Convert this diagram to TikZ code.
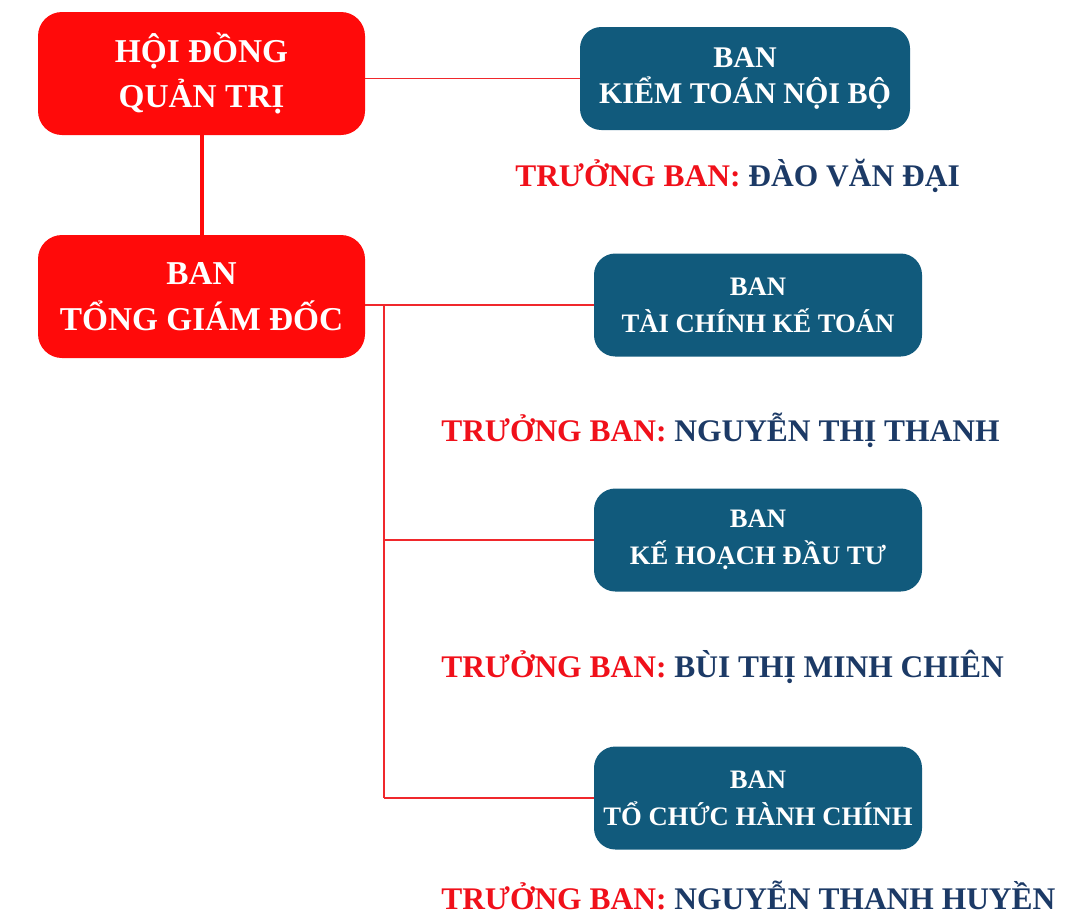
\documentclass[tikz,border=0pt]{standalone}
\usepackage{fontspec}
\setmainfont{Liberation Serif}
\definecolor{boxred}{HTML}{FF0A0A}
\definecolor{boxteal}{HTML}{115A7C}
\definecolor{namered}{HTML}{F0101A}
\definecolor{nameblue}{HTML}{1C3A66}
\definecolor{linered}{HTML}{F0282C}
\tikzset{
  redbox/.style={fill=boxred, rounded corners=18pt, text=white, align=center,
    minimum width=245.25pt, minimum height=92.25pt, inner sep=0pt,
    font=\bfseries\fontsize{25}{34}\selectfont},
  tealbox/.style={fill=boxteal, rounded corners=16pt, text=white, align=center,
    minimum width=246pt, minimum height=77.25pt, inner sep=0pt,
    font=\bfseries\fontsize{20}{27.5}\selectfont},
  headname/.style={anchor=west, inner sep=0pt, font=\bfseries\fontsize{23.6}{28}\selectfont},
  thinline/.style={draw=linered, line width=1.3pt},
  thickline/.style={draw=boxred, line width=3pt}
}
\begin{document}
\begin{tikzpicture}[x=0.75pt, y=-0.75pt]
\useasboundingbox (0,0) rectangle (1091,915);
% main boxes
\node[redbox] (hdqt) at (201.5,73.5) {HỘI ĐỒNG\\QUẢN TRỊ};
\node[redbox] (tgd) at (201.5,296.5) {BAN\\TỔNG GIÁM ĐỐC};
\node[tealbox, minimum width=247.5pt, font=\bfseries\fontsize{22.5}{27.5}\selectfont] (ktnb) at (745,78.5) {BAN\\KIỂM TOÁN NỘI BỘ};
\node[tealbox] (tckt) at (758,305) {BAN\\TÀI CHÍNH KẾ TOÁN};
\node[tealbox] (khdt) at (758,540) {BAN\\KẾ HOẠCH ĐẦU TƯ};
\node[tealbox] (tchc) at (758,798) {BAN\\TỔ CHỨC HÀNH CHÍNH};
% heads
\node[headname] (n1) at (515,176) {\textcolor{namered}{TRƯỞNG BAN:} \textcolor{nameblue}{ĐÀO VĂN ĐẠI}};
\node[headname] (n2) at (441,430) {\textcolor{namered}{TRƯỞNG BAN:} \textcolor{nameblue}{NGUYỄN THỊ THANH}};
\node[headname] (n3) at (441,667) {\textcolor{namered}{TRƯỞNG BAN:} \textcolor{nameblue}{BÙI THỊ MINH CHIÊN}};
\node[headname] (n4) at (441,895) {\textcolor{namered}{TRƯỞNG BAN:} \textcolor{nameblue}{NGUYỄN THANH HUYỀN}};
% connectors
\draw[thickline] (hdqt.south) -- (tgd.north);
\draw[thinline] (hdqt.east |- ktnb.west) -- (ktnb.west);
\coordinate (ttop) at (384,305);
\coordinate (tbot) at (384,798);
\draw[thinline] (tgd.east |- tckt.west) -- (tckt.west);
\draw[thinline] (ttop) -- (tbot);
\draw[thinline] (ttop |- khdt.west) -- (khdt.west);
\draw[thinline] (tbot) -- (tchc.west);
\end{tikzpicture}
\end{document}
